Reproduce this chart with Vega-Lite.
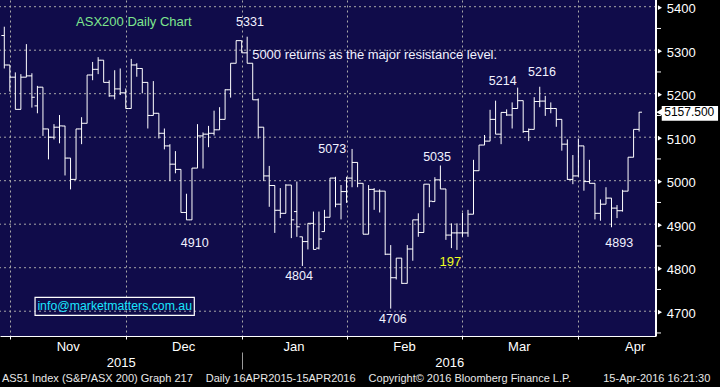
{
"$schema": "https://vega.github.io/schema/vega-lite/v6.json",
"width": 656, "height": 336,
"autosize": {"type": "none"},
"padding": {"left": 0, "top": 0, "right": 64, "bottom": 51},
"background": "#000000",
"config": {"view": {"fill": "#100c4a", "stroke": null}, "font": "Liberation Sans, Arial, sans-serif"},
"resolve": {"axis": {"x": "independent"}},
"datasets": {
"bars": [
{"i":1,"o":5334,"h":5354,"l":5258,"c":5266},{"i":2,"o":5266,"h":5266,"l":5205,"c":5238},{"i":3,"o":5238,"h":5249,"l":5164,"c":5164},{"i":4,"o":5164,"h":5245,"l":5164,"c":5238},{"i":5,"o":5238,"h":5314,"l":5238,"c":5241},{"i":6,"o":5241,"h":5247,"l":5168,"c":5192},{"i":7,"o":5172,"h":5218,"l":5155,"c":5215},{"i":8,"o":5215,"h":5215,"l":5103,"c":5119},{"i":9,"o":5119,"h":5119,"l":5049,"c":5100},{"i":10,"o":5100,"h":5130,"l":5095,"c":5123},
{"i":11,"o":5123,"h":5151,"l":5086,"c":5126},{"i":12,"o":5126,"h":5126,"l":5012,"c":5052},{"i":13,"o":5052,"h":5052,"l":4980,"c":5003},{"i":14,"o":5003,"h":5119,"l":5003,"c":5119},{"i":15,"o":5119,"h":5146,"l":5084,"c":5132},{"i":16,"o":5132,"h":5243,"l":5132,"c":5243},{"i":17,"o":5243,"h":5273,"l":5231,"c":5256},{"i":18,"o":5256,"h":5284,"l":5245,"c":5277},{"i":19,"o":5277,"h":5277,"l":5226,"c":5226},{"i":20,"o":5226,"h":5231,"l":5193,"c":5195},
{"i":21,"o":5195,"h":5254,"l":5187,"c":5211},{"i":22,"o":5211,"h":5258,"l":5197,"c":5202},{"i":23,"o":5202,"h":5212,"l":5166,"c":5166},{"i":24,"o":5166,"h":5280,"l":5166,"c":5266},{"i":25,"o":5266,"h":5270,"l":5239,"c":5258},{"i":26,"o":5258,"h":5258,"l":5201,"c":5226},{"i":27,"o":5226,"h":5226,"l":5120,"c":5150},{"i":28,"o":5150,"h":5229,"l":5150,"c":5155},{"i":29,"o":5155,"h":5155,"l":5097,"c":5109},{"i":30,"o":5109,"h":5120,"l":5072,"c":5080},
{"i":31,"o":5080,"h":5084,"l":4999,"c":5038},{"i":32,"o":5038,"h":5068,"l":5017,"c":5026},{"i":33,"o":5026,"h":5026,"l":4927,"c":4927},{"i":34,"o":4927,"h":4970,"l":4910,"c":4910},{"i":35,"o":4910,"h":5029,"l":4910,"c":5029},{"i":36,"o":5029,"h":5130,"l":5029,"c":5103},{"i":37,"o":5103,"h":5111,"l":5028,"c":5107},{"i":38,"o":5107,"h":5126,"l":5077,"c":5109},{"i":39,"o":5109,"h":5161,"l":5104,"c":5117},{"i":40,"o":5117,"h":5169,"l":5117,"c":5141},
{"i":41,"o":5141,"h":5210,"l":5141,"c":5209},{"i":42,"o":5209,"h":5270,"l":5191,"c":5270},{"i":43,"o":5270,"h":5322,"l":5270,"c":5322},{"i":44,"o":5322,"h":5322,"l":5294,"c":5294},{"i":45,"o":5294,"h":5331,"l":5270,"c":5270},{"i":46,"o":5270,"h":5270,"l":5186,"c":5186},{"i":47,"o":5186,"h":5189,"l":5097,"c":5123},{"i":48,"o":5123,"h":5123,"l":4999,"c":5011},{"i":49,"o":5011,"h":5034,"l":4940,"c":4989},{"i":50,"o":4989,"h":4989,"l":4880,"c":4932},
{"i":51,"o":4932,"h":4983,"l":4914,"c":4925},{"i":52,"o":4925,"h":4992,"l":4925,"c":4990},{"i":53,"o":4990,"h":4990,"l":4868,"c":4910},{"i":54,"o":4929,"h":4998,"l":4871,"c":4894},{"i":55,"o":4871,"h":4871,"l":4804,"c":4860},{"i":56,"o":4860,"h":4902,"l":4842,"c":4902},{"i":57,"o":4902,"h":4929,"l":4842,"c":4842},{"i":58,"o":4845,"h":4929,"l":4842,"c":4866},{"i":59,"o":4883,"h":4933,"l":4883,"c":4916},{"i":60,"o":4916,"h":5006,"l":4916,"c":5006},
{"i":61,"o":5006,"h":5009,"l":4939,"c":4946},{"i":62,"o":4946,"h":4990,"l":4911,"c":4975},{"i":63,"o":4975,"h":5009,"l":4949,"c":5006},{"i":64,"o":5006,"h":5073,"l":4985,"c":5042},{"i":65,"o":5042,"h":5042,"l":4985,"c":4994},{"i":66,"o":4994,"h":4994,"l":4877,"c":4877},{"i":67,"o":4877,"h":4990,"l":4877,"c":4980},{"i":68,"o":4980,"h":4983,"l":4933,"c":4976},{"i":69,"o":4976,"h":4980,"l":4927,"c":4976},{"i":70,"o":4976,"h":4976,"l":4829,"c":4831},
{"i":71,"o":4831,"h":4852,"l":4706,"c":4777},{"i":72,"o":4777,"h":4822,"l":4773,"c":4822},{"i":73,"o":4822,"h":4822,"l":4763,"c":4764},{"i":74,"o":4764,"h":4852,"l":4764,"c":4843},{"i":75,"o":4843,"h":4910,"l":4816,"c":4910},{"i":76,"o":4910,"h":4925,"l":4871,"c":4881},{"i":77,"o":4881,"h":4992,"l":4881,"c":4992},{"i":78,"o":4992,"h":4992,"l":4939,"c":4953},{"i":79,"o":4952,"h":5008,"l":4952,"c":5002},{"i":80,"o":5002,"h":5035,"l":4981,"c":4981},
{"i":81,"o":4981,"h":4981,"l":4864,"c":4875},{"i":82,"o":4875,"h":4902,"l":4845,"c":4880},{"i":83,"o":4880,"h":4902,"l":4841,"c":4880},{"i":84,"o":4880,"h":4926,"l":4871,"c":4880},{"i":85,"o":4880,"h":4933,"l":4871,"c":4923},{"i":86,"o":4923,"h":5048,"l":4923,"c":5023},{"i":87,"o":5023,"h":5082,"l":5023,"c":5082},{"i":88,"o":5082,"h":5105,"l":5082,"c":5091},{"i":89,"o":5091,"h":5163,"l":5091,"c":5141},{"i":90,"o":5141,"h":5184,"l":5107,"c":5107},
{"i":91,"o":5107,"h":5157,"l":5084,"c":5157},{"i":92,"o":5157,"h":5164,"l":5149,"c":5151},{"i":93,"o":5151,"h":5180,"l":5120,"c":5166},{"i":94,"o":5166,"h":5214,"l":5166,"c":5184},{"i":95,"o":5184,"h":5184,"l":5110,"c":5113},{"i":96,"o":5113,"h":5120,"l":5091,"c":5118},{"i":97,"o":5118,"h":5192,"l":5118,"c":5182},{"i":98,"o":5182,"h":5216,"l":5169,"c":5183},{"i":99,"o":5183,"h":5195,"l":5149,"c":5166},{"i":100,"o":5166,"h":5180,"l":5155,"c":5166},
{"i":101,"o":5166,"h":5166,"l":5124,"c":5141},{"i":102,"o":5141,"h":5141,"l":5069,"c":5084},{"i":103,"o":5084,"h":5095,"l":5002,"c":5003},{"i":104,"o":5003,"h":5059,"l":4992,"c":5011},{"i":105,"o":5011,"h":5097,"l":5009,"c":5080},{"i":106,"o":5080,"h":5080,"l":4977,"c":4998},{"i":107,"o":4998,"h":5048,"l":4994,"c":4994},{"i":108,"o":4994,"h":4994,"l":4911,"c":4925},{"i":109,"o":4925,"h":4957,"l":4908,"c":4946},{"i":110,"o":4946,"h":4985,"l":4946,"c":4960},
{"i":111,"o":4960,"h":4960,"l":4893,"c":4937},{"i":112,"o":4937,"h":4944,"l":4914,"c":4931},{"i":113,"o":4931,"h":4979,"l":4929,"c":4976},{"i":114,"o":4976,"h":5054,"l":4976,"c":5054},{"i":115,"o":5054,"h":5118,"l":5054,"c":5118},{"i":116,"o":5118,"h":5158,"l":5113,"c":5157.5}
],
"majors": [{"p":4700},{"p":4800},{"p":4900},{"p":5000},{"p":5100},{"p":5200},{"p":5300},{"p":5400}],
"minors": [{"p":4650},{"p":4750},{"p":4850},{"p":4950},{"p":5050},{"p":5150},{"p":5250},{"p":5350}],
"levels": [{"i":45.5,"p":5365,"t":"5331"},{"i":60.4,"p":5073,"t":"5073"},{"i":79.4,"p":5054,"t":"5035"},{"i":91.3,"p":5230,"t":"5214"},{"i":98.4,"p":5251,"t":"5216"},{"i":35.5,"p":4857,"t":"4910"},{"i":54.4,"p":4781,"t":"4804"},{"i":71.4,"p":4681,"t":"4706"},{"i":112.4,"p":4856,"t":"4893"}],
"comment": [{"i":45.9,"p":5290,"t":"5000 returns as the major resistance level."}],
"heading": [{"i":14.0,"p":5364,"t":"ASX200 Daily Chart"}],
"flag": [{"i":81.8,"p":4813,"t":"197"}],
"emailbox": [{"i":6.57,"i2":35.42,"p":4732,"p2":4690.6}],
"email": [{"i":21.0,"p":4712,"t":"info@marketmatters.com.au"}],
"pricebox": [{"i":120.1,"i2":130.3,"p":5171.7,"p2":5137.9}],
"pricearrow": [{"i":119.75,"p":5157.5}],
"price": [{"i":120.55,"p":5157.5,"t":"5157.500"}],
"footer": [{"i":0.58,"p":4544,"t":"AS51 Index (S&P/ASX 200) Graph 217"},{"i":37.5,"p":4544,"t":"Daily 16APR2015-15APR2016"},{"i":67.0,"p":4544,"t":"Copyright© 2016 Bloomberg Finance L.P."},{"i":109.5,"p":4544,"t":"15-Apr-2016 16:21:30"}]
},
"layer": [
{"data": {"name": "majors"},
 "mark": {"type": "rule", "color": "#a8a8a8", "strokeWidth": 1, "strokeDash": [2,3]},
 "encoding": {
  "y": {"field": "p", "type": "quantitative", "scale": {"domain": [4643, 5415.4], "nice": false, "zero": false}, "axis": null}
 }},
{"data": {"name": "bars"},
 "mark": {"type": "rule", "color": "#ffffff", "strokeWidth": 1},
 "encoding": {
  "x": {"field": "i", "type": "quantitative", "title": null,
   "scale": {"domain": [0.221, 119.06], "nice": false, "zero": false},
   "axis": {"orient": "bottom", "values": [2,12.5,23,33.4,44,53.4,63,73.4,84,94.2,105,115.2],
    "labelExpr": "datum.value == 12.5 ? 'Nov' : datum.value == 33.4 ? 'Dec' : datum.value == 53.4 ? 'Jan' : datum.value == 73.4 ? 'Feb' : datum.value == 94.2 ? 'Mar' : datum.value == 115.2 ? 'Apr' : ''",
    "grid": true, "gridColor": "#a8a8a8", "gridDash": [2,3], "gridWidth": 1,
    "gridOpacity": {"condition": {"test": "indexof([2,23,44,63,84,105], datum.value) >= 0", "value": 1}, "value": 0},
    "tickOpacity": {"condition": {"test": "indexof([2,23,44,63,84,105], datum.value) >= 0", "value": 1}, "value": 0},
    "tickSize": 3, "tickColor": "#ffffff", "domainColor": "#ffffff", "domainWidth": 1,
    "labelColor": "#ffffff", "labelFontSize": 13, "labelPadding": 1, "labelFlush": false, "labelOverlap": false, "labelBound": false}},
  "y": {"field": "l", "type": "quantitative", "scale": {"domain": [4643, 5415.4], "nice": false, "zero": false}, "axis": null},
  "y2": {"field": "h"}
 }},
{"data": {"name": "bars"},
 "mark": {"type": "tick", "orient": "horizontal", "size": 3, "thickness": 1, "xOffset": -1.4, "color": "#ffffff", "opacity": 1},
 "encoding": {
  "x": {"field": "i", "type": "quantitative", "title": null,
   "scale": {"domain": [0.221, 119.06], "nice": false, "zero": false},
   "axis": {"orient": "bottom", "values": [22.1, 44, 81.6],
    "labelExpr": "datum.value == 22.1 ? '2015' : datum.value == 81.6 ? '2016' : ''",
    "domain": false, "grid": false,
    "tickOpacity": {"condition": {"test": "datum.value == 44", "value": 1}, "value": 0},
    "tickSize": 33, "tickDash": [0,16,17], "tickColor": "#9a9a9a",
    "labelColor": "#ffffff", "labelFontSize": 13, "labelPadding": -13, "labelFlush": false, "labelOverlap": false, "labelBound": false}},
  "y": {"field": "o", "type": "quantitative", "scale": {"domain": [4643, 5415.4], "nice": false, "zero": false}, "axis": null}
 }},
{"data": {"name": "bars"},
 "mark": {"type": "tick", "orient": "horizontal", "size": 3, "thickness": 1, "xOffset": 1.4, "color": "#ffffff", "opacity": 1},
 "encoding": {
  "x": {"field": "i", "type": "quantitative", "scale": {"domain": [0.221, 119.06], "nice": false, "zero": false}, "axis": null},
  "y": {"field": "c", "type": "quantitative", "scale": {"domain": [4643, 5415.4], "nice": false, "zero": false}, "axis": null}
 }},
{"data": {"name": "majors"},
 "mark": {"type": "rule", "color": "#ffffff", "strokeWidth": 1},
 "encoding": {
  "x": {"datum": 119.06, "type": "quantitative", "scale": {"domain": [0.221, 119.06], "nice": false, "zero": false}, "axis": null}
 }},
{"data": {"name": "majors"},
 "mark": {"type": "point", "shape": "triangle-right", "filled": true, "size": 22, "color": "#ffffff", "opacity": 1, "yOffset": 1},
 "encoding": {
  "x": {"datum": 119.78, "type": "quantitative", "scale": {"domain": [0.221, 119.06], "nice": false, "zero": false}, "axis": null},
  "y": {"field": "p", "type": "quantitative", "scale": {"domain": [4643, 5415.4], "nice": false, "zero": false}, "axis": null}
 }},
{"data": {"name": "majors"},
 "mark": {"type": "text", "align": "left", "baseline": "middle", "fontSize": 13, "color": "#ffffff", "dy": 2.5},
 "encoding": {
  "x": {"datum": 121.0, "type": "quantitative", "scale": {"domain": [0.221, 119.06], "nice": false, "zero": false}, "axis": null},
  "y": {"field": "p", "type": "quantitative", "scale": {"domain": [4643, 5415.4], "nice": false, "zero": false}, "axis": null},
  "text": {"field": "p", "type": "quantitative", "format": "d"}
 }},
{"data": {"name": "minors"},
 "mark": {"type": "tick", "orient": "horizontal", "size": 4, "thickness": 1, "color": "#ffffff", "opacity": 1},
 "encoding": {
  "x": {"datum": 119.6, "type": "quantitative", "scale": {"domain": [0.221, 119.06], "nice": false, "zero": false}, "axis": null},
  "y": {"field": "p", "type": "quantitative", "scale": {"domain": [4643, 5415.4], "nice": false, "zero": false}, "axis": null}
 }},
{"data": {"name": "levels"},
 "mark": {"type": "text", "align": "center", "baseline": "middle", "fontSize": 12.5, "color": "#f2f2ff"},
 "encoding": {
  "x": {"field": "i", "type": "quantitative", "scale": {"domain": [0.221, 119.06], "nice": false, "zero": false}, "axis": null},
  "y": {"field": "p", "type": "quantitative", "scale": {"domain": [4643, 5415.4], "nice": false, "zero": false}, "axis": null},
  "text": {"field": "t"}
 }},
{"data": {"name": "comment"},
 "mark": {"type": "text", "align": "left", "baseline": "middle", "fontSize": 13, "color": "#f2f2ff"},
 "encoding": {
  "x": {"field": "i", "type": "quantitative", "scale": {"domain": [0.221, 119.06], "nice": false, "zero": false}, "axis": null},
  "y": {"field": "p", "type": "quantitative", "scale": {"domain": [4643, 5415.4], "nice": false, "zero": false}, "axis": null},
  "text": {"field": "t"}
 }},
{"data": {"name": "heading"},
 "mark": {"type": "text", "align": "left", "baseline": "middle", "fontSize": 13, "color": "#7ee68e"},
 "encoding": {
  "x": {"field": "i", "type": "quantitative", "scale": {"domain": [0.221, 119.06], "nice": false, "zero": false}, "axis": null},
  "y": {"field": "p", "type": "quantitative", "scale": {"domain": [4643, 5415.4], "nice": false, "zero": false}, "axis": null},
  "text": {"field": "t"}
 }},
{"data": {"name": "flag"},
 "mark": {"type": "text", "align": "center", "baseline": "middle", "fontSize": 13, "color": "#f0ff20"},
 "encoding": {
  "x": {"field": "i", "type": "quantitative", "scale": {"domain": [0.221, 119.06], "nice": false, "zero": false}, "axis": null},
  "y": {"field": "p", "type": "quantitative", "scale": {"domain": [4643, 5415.4], "nice": false, "zero": false}, "axis": null},
  "text": {"field": "t"}
 }},
{"data": {"name": "emailbox"},
 "mark": {"type": "rect", "fillOpacity": 0, "stroke": "#ffffff", "strokeWidth": 1.2},
 "encoding": {
  "x": {"field": "i", "type": "quantitative", "scale": {"domain": [0.221, 119.06], "nice": false, "zero": false}, "axis": null},
  "x2": {"field": "i2"},
  "y": {"field": "p", "type": "quantitative", "scale": {"domain": [4643, 5415.4], "nice": false, "zero": false}, "axis": null},
  "y2": {"field": "p2"}
 }},
{"data": {"name": "email"},
 "mark": {"type": "text", "align": "center", "baseline": "middle", "fontSize": 12.3, "color": "#19e6ff"},
 "encoding": {
  "x": {"field": "i", "type": "quantitative", "scale": {"domain": [0.221, 119.06], "nice": false, "zero": false}, "axis": null},
  "y": {"field": "p", "type": "quantitative", "scale": {"domain": [4643, 5415.4], "nice": false, "zero": false}, "axis": null},
  "text": {"field": "t"}
 }},
{"data": {"name": "pricebox"},
 "mark": {"type": "rect", "fill": "#ffffff", "stroke": null},
 "encoding": {
  "x": {"field": "i", "type": "quantitative", "scale": {"domain": [0.221, 119.06], "nice": false, "zero": false}, "axis": null},
  "x2": {"field": "i2"},
  "y": {"field": "p", "type": "quantitative", "scale": {"domain": [4643, 5415.4], "nice": false, "zero": false}, "axis": null},
  "y2": {"field": "p2"}
 }},
{"data": {"name": "pricearrow"},
 "mark": {"type": "point", "shape": "triangle-left", "filled": true, "size": 70, "color": "#ffffff", "opacity": 1},
 "encoding": {
  "x": {"field": "i", "type": "quantitative", "scale": {"domain": [0.221, 119.06], "nice": false, "zero": false}, "axis": null},
  "y": {"field": "p", "type": "quantitative", "scale": {"domain": [4643, 5415.4], "nice": false, "zero": false}, "axis": null}
 }},
{"data": {"name": "price"},
 "mark": {"type": "text", "align": "left", "baseline": "middle", "fontSize": 12, "color": "#000000"},
 "encoding": {
  "x": {"field": "i", "type": "quantitative", "scale": {"domain": [0.221, 119.06], "nice": false, "zero": false}, "axis": null},
  "y": {"field": "p", "type": "quantitative", "scale": {"domain": [4643, 5415.4], "nice": false, "zero": false}, "axis": null},
  "text": {"field": "t"}
 }},
{"data": {"name": "footer"},
 "mark": {"type": "text", "align": "left", "baseline": "middle", "fontSize": 11, "color": "#e8e8e8"},
 "encoding": {
  "x": {"field": "i", "type": "quantitative", "scale": {"domain": [0.221, 119.06], "nice": false, "zero": false}, "axis": null},
  "y": {"field": "p", "type": "quantitative", "scale": {"domain": [4643, 5415.4], "nice": false, "zero": false}, "axis": null},
  "text": {"field": "t"}
 }}
]
}
